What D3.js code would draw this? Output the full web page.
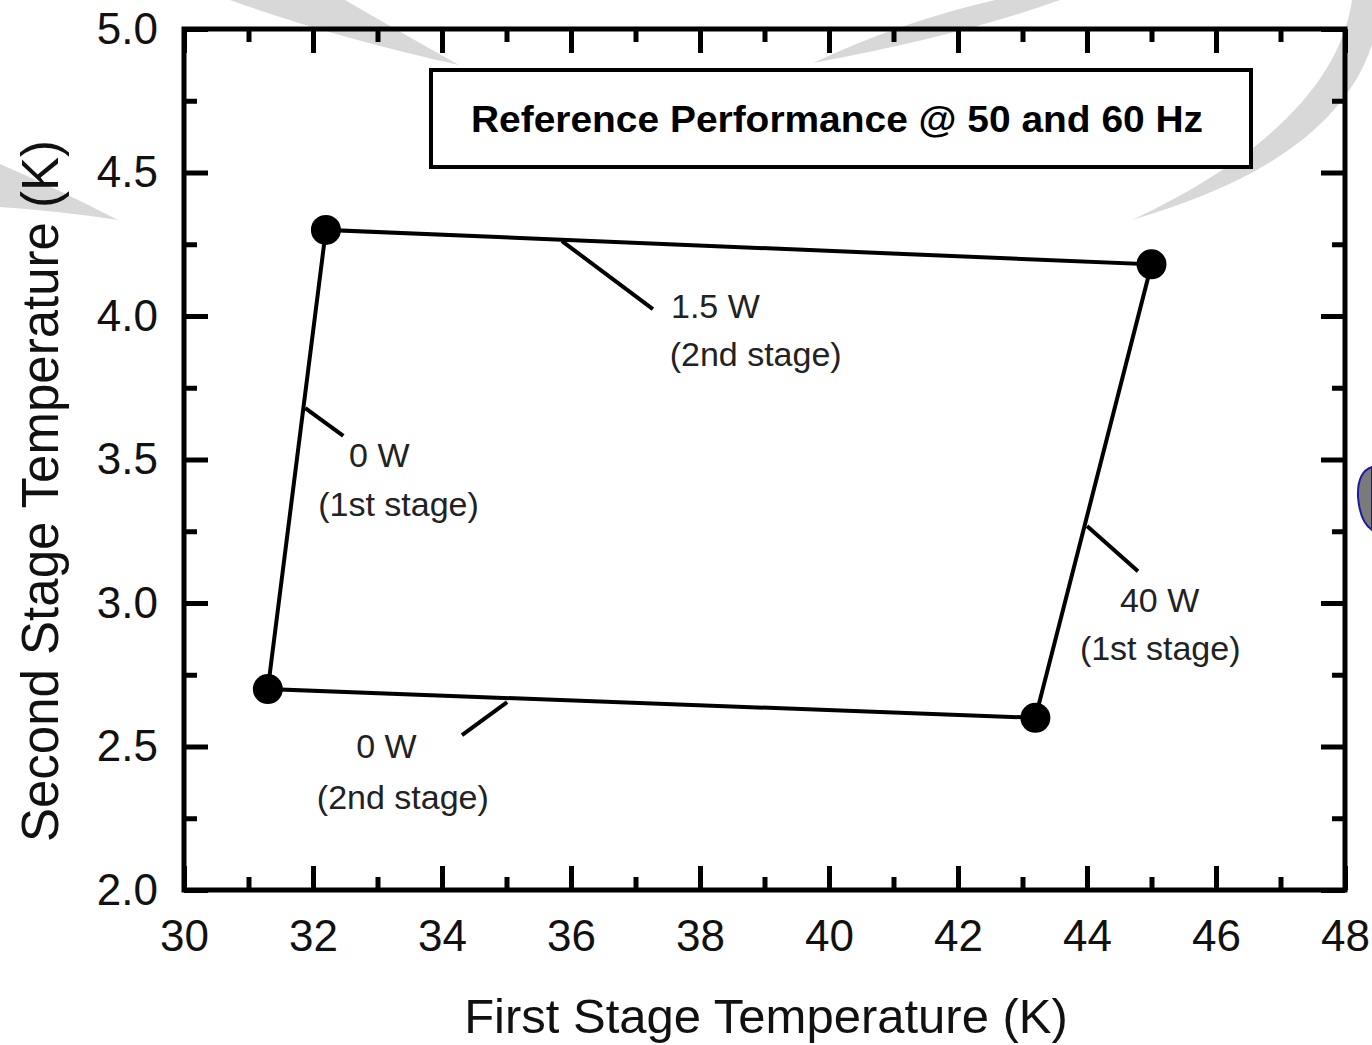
<!DOCTYPE html>
<html>
<head>
<meta charset="utf-8">
<script src="https://cdn.jsdelivr.net/npm/d3@7"></script>
<style>
  html, body { margin: 0; padding: 0; background: #fff; }
  svg { display: block; }
  text { font-family: "Liberation Sans", Arial, Helvetica, sans-serif; }
</style>
</head>
<body>
<svg id="chart" width="1372" height="1045"></svg>
<script>
// ---- data ----
const firstStageTemp  = [31.3, 32.2, 45.0, 43.2];   // K (x)
const secondStageTemp = [2.7, 4.3, 4.18, 2.6];      // K (y)
const pointLoads = ["0 W / 0 W", "0 W / 1.5 W", "40 W / 1.5 W", "40 W / 0 W"];

const xMajorTicks = [30, 32, 34, 36, 38, 40, 42, 44, 46, 48];
const xTickLabels = ["30", "32", "34", "36", "38", "40", "42", "44", "46", "48"];
const xMinorTicks = [31, 33, 35, 37, 39, 41, 43, 45, 47];
const yMajorTicks = [2.0, 2.5, 3.0, 3.5, 4.0, 4.5, 5.0];
const yTickLabels = ["2.0", "2.5", "3.0", "3.5", "4.0", "4.5", "5.0"];
const yMinorTicks = [2.25, 2.75, 3.25, 3.75, 4.25, 4.75];

const annotationLine1 = ["1.5 W", "0 W", "40 W", "0 W"];
const annotationLine2 = ["(2nd stage)", "(1st stage)", "(1st stage)", "(2nd stage)"];
// leader start / end (data units) and text anchor positions (data units)
const leaderStartX = [35.86, 31.88, 44.0, 35.01];
const leaderStartY = [4.261, 3.679, 3.268, 2.655];
const leaderEndX   = [37.27, 32.47, 44.79, 34.31];
const leaderEndY   = [4.024, 3.582, 3.111, 2.540];
const line1X = [37.55, 32.56, 44.51, 32.67];
const line1Y = [3.993, 3.474, 2.969, 2.460];
const line2X = [37.53, 32.08, 43.89, 32.06];
const line2Y = [3.826, 3.303, 2.801, 2.282];

const chartTitle = "Reference Performance @ 50 and 60 Hz";
const xTitle = "First Stage Temperature (K)";
const yTitle = "Second Stage Temperature (K)";

// ---- layout ----
const svg = d3.select("#chart");
const L = 184, R = 1345, T = 29, B = 890;
const x = d3.scaleLinear().domain([30, 48]).range([L, R]);
const y = d3.scaleLinear().domain([2, 5]).range([B, T]);

svg.append("rect").attr("width", 1372).attr("height", 1045).attr("fill", "#fff");

// ---- background watermark swooshes ----
const deco = svg.append("g").attr("fill", "#d8d8d8").attr("stroke", "none");
deco.append("path").attr("d", "M0,164 Q60,190 118,220 Q60,211 0,207 Z");
deco.append("path").attr("d", "M230,0 L345,0 Q400,32 459,65 Q330,36 230,0 Z");
deco.append("path").attr("d", "M813,63 Q900,22 995,0 L1060,0 Q960,36 813,63 Z");
deco.append("path").attr("d", "M1132,220 C1235,190 1340,140 1372,45 L1372,0 L1352,0 C1340,85 1260,160 1132,220 Z");
svg.append("path")
  .attr("d", "M1372,467 Q1357,472 1358,497 Q1360,522 1372,530 Z")
  .attr("fill", "#7a7a7a").attr("stroke", "#1c1ca0").attr("stroke-width", 2);

// ---- axes ----
function styleAxis(g) {
  g.select(".domain").remove();
  g.selectAll(".tick line").attr("stroke", "#000").attr("stroke-width", 5);
  g.selectAll(".tick text").attr("fill", "#111").style("font-size", "44px")
    .style("font-family", "'Liberation Sans', Arial, Helvetica, sans-serif");
}
const MAJ = 24, MIN = 13;

svg.append("g").attr("transform", `translate(0,${B})`)
  .call(d3.axisBottom(x).tickValues(xMajorTicks).tickSize(-MAJ).tickPadding(30)
        .tickFormat((d, i) => xTickLabels[i])).call(styleAxis);
svg.append("g").attr("transform", `translate(0,${B})`)
  .call(d3.axisBottom(x).tickValues(xMinorTicks).tickSize(-MIN).tickFormat("")).call(styleAxis);
svg.append("g").attr("transform", `translate(0,${T})`)
  .call(d3.axisTop(x).tickValues(xMajorTicks).tickSize(-MAJ).tickFormat("")).call(styleAxis);
svg.append("g").attr("transform", `translate(0,${T})`)
  .call(d3.axisTop(x).tickValues(xMinorTicks).tickSize(-MIN).tickFormat("")).call(styleAxis);

svg.append("g").attr("transform", `translate(${L},0)`)
  .call(d3.axisLeft(y).tickValues(yMajorTicks).tickSize(-MAJ).tickPadding(26)
        .tickFormat((d, i) => yTickLabels[i])).call(styleAxis);
svg.append("g").attr("transform", `translate(${L},0)`)
  .call(d3.axisLeft(y).tickValues(yMinorTicks).tickSize(-MIN).tickFormat("")).call(styleAxis);
svg.append("g").attr("transform", `translate(${R},0)`)
  .call(d3.axisRight(y).tickValues(yMajorTicks).tickSize(-MAJ).tickFormat("")).call(styleAxis);
svg.append("g").attr("transform", `translate(${R},0)`)
  .call(d3.axisRight(y).tickValues(yMinorTicks).tickSize(-MIN).tickFormat("")).call(styleAxis);

// frame
svg.append("rect").attr("x", L).attr("y", T).attr("width", R - L).attr("height", B - T)
  .attr("fill", "none").attr("stroke", "#000").attr("stroke-width", 5);

// axis titles
svg.append("text").attr("x", 766).attr("y", 1033).attr("text-anchor", "middle")
  .style("font-size", "49px").attr("fill", "#111").text(xTitle);
svg.append("text").attr("transform", "translate(58,491) rotate(-90)").attr("text-anchor", "middle")
  .style("font-size", "51px").attr("fill", "#111").text(yTitle);

// title box
svg.append("rect").attr("x", 431).attr("y", 70).attr("width", 820).attr("height", 97)
  .attr("fill", "#fff").attr("stroke", "#000").attr("stroke-width", 4);
svg.append("text").attr("x", 471).attr("y", 132)
  .attr("textLength", 732).attr("lengthAdjust", "spacingAndGlyphs")
  .style("font-size", "36px").style("font-weight", "bold").attr("fill", "#000").text(chartTitle);

// ---- data quadrilateral ----
const pts = firstStageTemp.map((v, i) => [v, secondStageTemp[i]]);
const line = d3.line().x(d => x(d[0])).y(d => y(d[1])).curve(d3.curveLinearClosed);
svg.append("path").datum(pts).attr("d", line)
  .attr("fill", "none").attr("stroke", "#000").attr("stroke-width", 4);

svg.append("g").selectAll("circle").data(pts).join("circle")
  .attr("cx", d => x(d[0])).attr("cy", d => y(d[1])).attr("r", 15)
  .attr("fill", "#000").append("title").text((d, i) => pointLoads[i]);

// ---- annotations ----
const ann = svg.append("g");
annotationLine1.forEach((t, i) => {
  ann.append("line")
    .attr("x1", x(leaderStartX[i])).attr("y1", y(leaderStartY[i]))
    .attr("x2", x(leaderEndX[i])).attr("y2", y(leaderEndY[i]))
    .attr("stroke", "#000").attr("stroke-width", 4);
  ann.append("text").attr("x", x(line1X[i])).attr("y", y(line1Y[i]))
    .style("font-size", "34px").attr("fill", "#222").text(t);
  ann.append("text").attr("x", x(line2X[i])).attr("y", y(line2Y[i]))
    .style("font-size", "34px").attr("fill", "#222").text(annotationLine2[i]);
});
</script>
</body>
</html>
